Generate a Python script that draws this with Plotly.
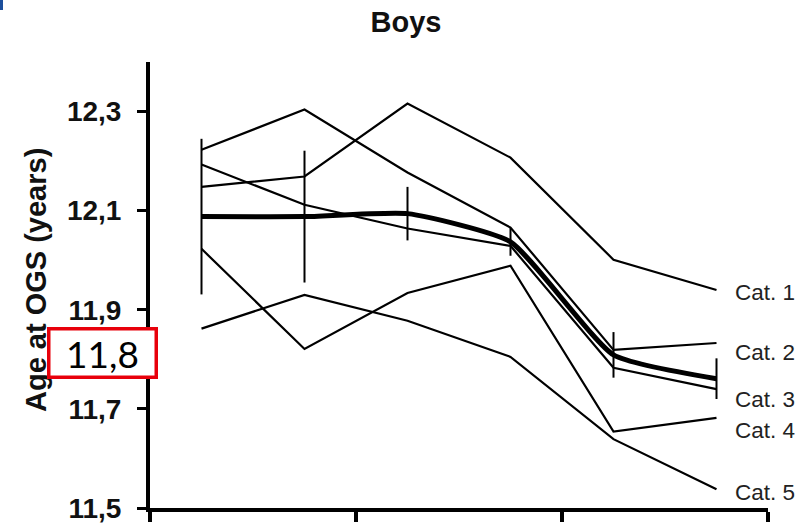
import plotly.graph_objects as go

# ---- data ----
x_pos = [0.5, 1.5, 2.5, 3.5, 4.5, 5.5]
cat_names = ["Cat. 1", "Cat. 2", "Cat. 3", "Cat. 4", "Cat. 5"]
cat1 = [12.148, 12.169, 12.316, 12.207, 12.001, 11.940]
cat2 = [12.223, 12.304, 12.177, 12.066, 11.819, 11.833]
cat3 = [12.193, 12.112, 12.064, 12.029, 11.783, 11.740]
cat4 = [12.023, 11.821, 11.934, 11.989, 11.654, 11.682]
cat5 = [11.862, 11.930, 11.878, 11.805, 11.639, 11.538]
mean_all = [12.088, 12.088, 12.094, 12.037, 11.809, 11.761]
mean_err = [0.157, 0.133, 0.054, 0.028, 0.046, 0.041]
label_y = [11.935, 11.813, 11.718, 11.656, 11.532]
y_tickvals = [11.5, 11.7, 11.9, 12.1, 12.3]
y_ticktext = ["11,5", "11,7", "11,9", "12,1", "12,3"]
x_tickvals = [0, 2, 4, 6]

W, H = 811, 524
L, R, T, B = 150, 43, 62, 16
PW, PH = W - L - R, H - T - B

fig = go.Figure()
for series in [cat1, cat2, cat3, cat4, cat5]:
    fig.add_trace(go.Scatter(x=x_pos, y=series, mode="lines",
                             line=dict(color="black", width=2.2),
                             showlegend=False, hoverinfo="skip"))
fig.add_trace(go.Scatter(x=x_pos, y=mean_all, mode="lines",
                         line=dict(color="black", width=5, shape="spline", smoothing=0.5),
                         error_y=dict(type="data", array=mean_err, visible=True,
                                      color="black", thickness=2, width=0),
                         showlegend=False, hoverinfo="skip"))

annotations = []
for name, yv in zip(cat_names, label_y):
    annotations.append(dict(x=x_pos[-1], y=yv, xref="x", yref="y", text=name,
                            showarrow=False, xanchor="left", yanchor="middle", xshift=16,
                            font=dict(family="Liberation Sans, Arial", size=22.5, color="#222222")))
# y-axis title
annotations.append(dict(x=(36 - L) / PW, y=(H - B - 280) / PH, xref="paper", yref="paper",
                        text="<b>Age at OGS (years)</b>", textangle=-90, showarrow=False,
                        xanchor="center", yanchor="middle",
                        font=dict(family="Liberation Sans, Arial", size=29, color="#111111")))
# red highlighted label
annotations.append(dict(x=(102 - L) / PW, y=(H - B - 352.5) / PH, xref="paper", yref="paper",
                        text="11,8", showarrow=False, xanchor="center", yanchor="middle",
                        width=104, height=45, borderpad=0, borderwidth=3.5,
                        bordercolor="#e8000b", bgcolor="white",
                        font=dict(family="Lato, Noto Sans", size=37, color="black")))

shapes = [dict(type="rect", xref="paper", yref="paper",
               x0=-L / PW, x1=(3 - L) / PW, y0=(H - B - 10) / PH, y1=(H - B) / PH,
               fillcolor="#1d4f9c", line=dict(width=0), layer="above")]

fig.update_layout(
    width=W, height=H,
    margin=dict(l=L, r=R, t=T, b=B, autoexpand=False),
    paper_bgcolor="white", plot_bgcolor="white",
    title=dict(text="<b>Boys</b>", x=406 / W, xref="container", xanchor="center",
               y=1 - 22 / H, yref="container", yanchor="middle",
               font=dict(family="Liberation Sans, Arial", size=29, color="#111111")),
    xaxis=dict(range=[0, 6], tickvals=x_tickvals, showticklabels=False,
               showline=True, linecolor="black", linewidth=4,
               ticks="outside", ticklen=10, tickwidth=4, tickcolor="black",
               showgrid=False, zeroline=False, automargin=False),
    yaxis=dict(range=[11.5, 12.4], tickvals=y_tickvals,
               ticktext=["<b>" + t + "</b>" for t in y_ticktext],
               showline=True, linecolor="black", linewidth=4,
               ticks="outside", ticklen=9, tickwidth=3, tickcolor="black",
               ticklabelstandoff=10,
               tickfont=dict(family="Liberation Sans, Arial", size=28, color="#111111"),
               showgrid=False, zeroline=False, automargin=False),
    annotations=annotations,
    shapes=shapes,
)

fig.write_html("out.html", config={"displayModeBar": False},
               post_script="document.body.style.margin='0';document.body.style.overflow='hidden';")
